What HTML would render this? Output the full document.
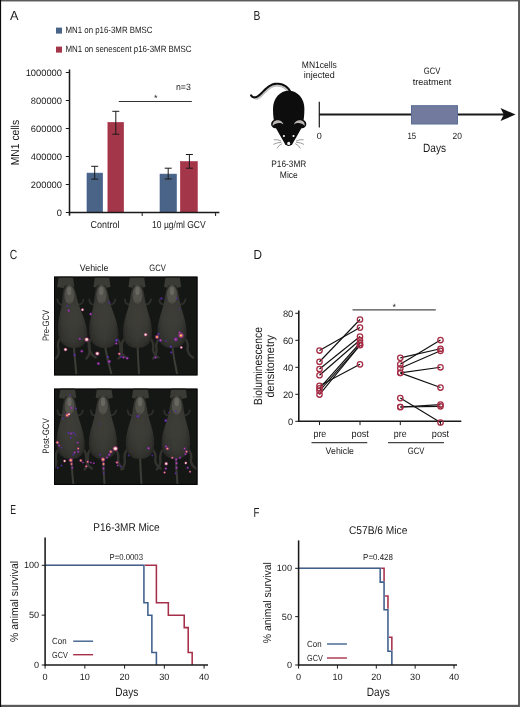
<!DOCTYPE html>
<html lang="en">
<head>
<meta charset="utf-8">
<title>Figure</title>
<style>
html,body{margin:0;padding:0;background:#fff;}
body{width:520px;height:707px;overflow:hidden;font-family:"Liberation Sans",sans-serif;}
svg{display:block;will-change:transform;}
</style>
</head>
<body>
<svg width="520" height="707" viewBox="0 0 520 707" font-family="'Liberation Sans', sans-serif" text-rendering="geometricPrecision">
<rect x="0" y="0" width="520" height="707" fill="#ffffff"/>
<text x="94.1" y="270.8" font-size="9.33" text-anchor="middle" fill="#1a1a1a" textLength="28.6" lengthAdjust="spacingAndGlyphs">Vehicle</text>
<text x="157.5" y="270.8" font-size="9.33" text-anchor="middle" fill="#1a1a1a" textLength="16.5" lengthAdjust="spacingAndGlyphs">GCV</text>
<text x="48.8" y="325.5" font-size="9.33" text-anchor="middle" fill="#1a1a1a" textLength="31" lengthAdjust="spacingAndGlyphs" transform="rotate(-90 48.8 325.5)">Pre-GCV</text>
<text x="48.8" y="436" font-size="9.33" text-anchor="middle" fill="#1a1a1a" textLength="35.5" lengthAdjust="spacingAndGlyphs" transform="rotate(-90 48.8 436)">Post-GCV</text>
<defs><radialGradient id="bg" cx="0.5" cy="0.55" r="0.62" fx="0.5" fy="0.45"><stop offset="0" stop-color="#403f3a"/><stop offset="0.55" stop-color="#393934"/><stop offset="1" stop-color="#222220"/></radialGradient><filter id="mb" x="-10%" y="-10%" width="120%" height="120%"><feGaussianBlur stdDeviation="0.75"/></filter><filter id="cb" x="-10%" y="-10%" width="120%" height="120%"><feGaussianBlur stdDeviation="0.3"/></filter><filter id="sb" x="-30%" y="-30%" width="160%" height="160%"><feGaussianBlur stdDeviation="0.7"/></filter><clipPath id="c1"><rect x="54.0" y="276.6" width="143.5" height="98.8"/></clipPath><clipPath id="c2"><rect x="54.0" y="388.6" width="143.5" height="96.3"/></clipPath></defs>
<rect x="54.0" y="276.6" width="143.5" height="98.8" fill="#151715"/>
<g clip-path="url(#c1)"><g filter="url(#cb)">
<path d="M58.8 276.5 L72.8 276.5 L74.4 286.9 L68.8 288.1 L62.8 288.1 L57.2 286.9 Z" fill="#3a3a34"/>
<path d="M95.0 276.5 L109.0 276.5 L110.6 286.9 L105.0 288.1 L99.0 288.1 L93.4 286.9 Z" fill="#3a3a34"/>
<path d="M130.0 276.5 L144.0 276.5 L145.6 286.9 L140.0 288.1 L134.0 288.1 L128.4 286.9 Z" fill="#3a3a34"/>
<path d="M165.6 276.5 L179.6 276.5 L181.2 286.9 L175.6 288.1 L169.6 288.1 L164.0 286.9 Z" fill="#3a3a34"/>
</g><g filter="url(#mb)">
<path d="M61.1 337.5 Q56.5 342.5 58.6 349.5 Q59.5 354.5 55.9 358.5" fill="none" stroke="#33332e" stroke-width="2.4" stroke-linecap="round"/>
<path d="M85.1 337.5 Q90.5 342.5 89.6 349.5 Q90.5 354.5 95.8 357.5" fill="none" stroke="#33332e" stroke-width="2.4" stroke-linecap="round"/>
<path d="M62.3 304.5 Q57.8 304.5 57.4 299.5" fill="none" stroke="#2e2e2a" stroke-width="1.8" stroke-linecap="round"/>
<path d="M78.3 304.5 Q82.8 304.5 83.4 299.5" fill="none" stroke="#2e2e2a" stroke-width="1.8" stroke-linecap="round"/>
<path d="M73.6 343.5 Q74.8 357.5 76.2 373.5" fill="none" stroke="#3d3d37" stroke-width="2.0" stroke-linecap="round"/>
<path d="M64.7 285.5 C62.4 289.5 62.8 296.5 62.1 302.5 C61.3 310.5 57.1 320.5 58.2 333.5 C59.0 343.5 66.0 348.0 74.0 348.0 C82.0 348.0 88.2 343.5 87.4 333.5 C86.3 320.5 80.3 310.5 78.1 302.5 C76.4 296.5 75.6 289.5 72.7 285.5 Z" fill="url(#bg)"/>
<ellipse cx="69.4" cy="294.5" rx="5.0" ry="9.5" fill="#5c5c55" opacity="0.7"/>
<ellipse cx="70.7" cy="310.5" rx="7.5" ry="9.0" fill="#3c3c36" opacity="0.3"/>
<ellipse cx="69.1" cy="291.0" rx="2.3" ry="4.2" fill="#7a7a72" opacity="0.55"/>
<path d="M70.5 307.5 L73.6 343.5" stroke="#3c3c36" stroke-width="1.1" opacity="0.55"/>
<ellipse cx="64.3" cy="334.5" rx="4.6" ry="8.0" fill="#393933" opacity="0.3"/>
<ellipse cx="81.3" cy="334.5" rx="4.6" ry="8.0" fill="#393933" opacity="0.3"/>
<path d="M92.1 337.5 Q87.4 342.5 89.3 349.5 Q90.1 354.5 86.4 358.5" fill="none" stroke="#33332e" stroke-width="2.4" stroke-linecap="round"/>
<path d="M116.1 337.5 Q121.4 342.5 120.3 349.5 Q121.1 354.5 126.3 357.5" fill="none" stroke="#33332e" stroke-width="2.4" stroke-linecap="round"/>
<path d="M94.1 304.5 Q89.6 304.5 89.3 299.5" fill="none" stroke="#2e2e2a" stroke-width="1.8" stroke-linecap="round"/>
<path d="M110.1 304.5 Q114.6 304.5 115.3 299.5" fill="none" stroke="#2e2e2a" stroke-width="1.8" stroke-linecap="round"/>
<path d="M104.5 343.5 Q106.8 357.5 111.3 373.5" fill="none" stroke="#3d3d37" stroke-width="2.0" stroke-linecap="round"/>
<path d="M97.0 285.5 C94.6 289.5 94.8 296.5 94.0 302.5 C93.0 310.5 88.5 320.5 89.3 333.5 C89.9 343.5 96.7 348.0 104.7 348.0 C112.7 348.0 119.1 343.5 118.5 333.5 C117.7 320.5 112.0 310.5 110.0 302.5 C108.4 296.5 107.8 289.5 105.0 285.5 Z" fill="url(#bg)"/>
<ellipse cx="101.5" cy="294.5" rx="5.0" ry="9.5" fill="#5c5c55" opacity="0.7"/>
<ellipse cx="102.4" cy="310.5" rx="7.5" ry="9.0" fill="#3c3c36" opacity="0.3"/>
<ellipse cx="101.3" cy="291.0" rx="2.3" ry="4.2" fill="#7a7a72" opacity="0.55"/>
<path d="M102.3 307.5 L104.5 343.5" stroke="#3c3c36" stroke-width="1.1" opacity="0.55"/>
<ellipse cx="95.4" cy="334.5" rx="4.6" ry="8.0" fill="#393933" opacity="0.3"/>
<ellipse cx="112.4" cy="334.5" rx="4.6" ry="8.0" fill="#393933" opacity="0.3"/>
<path d="M125.5 337.5 Q120.5 342.5 122.0 349.5 Q122.5 354.5 118.5 358.5" fill="none" stroke="#33332e" stroke-width="2.4" stroke-linecap="round"/>
<path d="M149.5 337.5 Q154.5 342.5 153.0 349.5 Q153.5 354.5 158.5 357.5" fill="none" stroke="#33332e" stroke-width="2.4" stroke-linecap="round"/>
<path d="M129.5 304.5 Q125.0 304.5 125.0 299.5" fill="none" stroke="#2e2e2a" stroke-width="1.8" stroke-linecap="round"/>
<path d="M145.5 304.5 Q150.0 304.5 151.0 299.5" fill="none" stroke="#2e2e2a" stroke-width="1.8" stroke-linecap="round"/>
<path d="M137.5 343.5 Q137.9 357.5 139.0 373.5" fill="none" stroke="#3d3d37" stroke-width="2.0" stroke-linecap="round"/>
<path d="M133.5 285.5 C130.9 289.5 130.7 296.5 129.5 302.5 C128.0 310.5 122.9 320.5 122.9 333.5 C122.9 343.5 129.5 348.0 137.5 348.0 C145.5 348.0 152.1 343.5 152.1 333.5 C152.1 320.5 147.0 310.5 145.5 302.5 C144.3 296.5 144.1 289.5 141.5 285.5 Z" fill="url(#bg)"/>
<ellipse cx="137.5" cy="294.5" rx="5.0" ry="9.5" fill="#5c5c55" opacity="0.7"/>
<ellipse cx="137.5" cy="310.5" rx="7.5" ry="9.0" fill="#3c3c36" opacity="0.3"/>
<ellipse cx="137.5" cy="291.0" rx="2.3" ry="4.2" fill="#7a7a72" opacity="0.55"/>
<path d="M137.5 307.5 L137.5 343.5" stroke="#3c3c36" stroke-width="1.1" opacity="0.55"/>
<ellipse cx="129.0" cy="334.5" rx="4.6" ry="8.0" fill="#393933" opacity="0.3"/>
<ellipse cx="146.0" cy="334.5" rx="4.6" ry="8.0" fill="#393933" opacity="0.3"/>
<path d="M160.0 337.5 Q155.0 342.5 156.5 349.5 Q157.0 354.5 153.0 358.5" fill="none" stroke="#33332e" stroke-width="2.4" stroke-linecap="round"/>
<path d="M184.0 337.5 Q189.0 342.5 187.5 349.5 Q188.0 354.5 193.0 357.5" fill="none" stroke="#33332e" stroke-width="2.4" stroke-linecap="round"/>
<path d="M164.0 304.5 Q159.5 304.5 159.5 299.5" fill="none" stroke="#2e2e2a" stroke-width="1.8" stroke-linecap="round"/>
<path d="M180.0 304.5 Q184.5 304.5 185.5 299.5" fill="none" stroke="#2e2e2a" stroke-width="1.8" stroke-linecap="round"/>
<path d="M172.0 343.5 Q173.5 357.5 177.0 373.5" fill="none" stroke="#3d3d37" stroke-width="2.0" stroke-linecap="round"/>
<path d="M168.0 285.5 C165.4 289.5 165.2 296.5 164.0 302.5 C162.5 310.5 157.4 320.5 157.4 333.5 C157.4 343.5 164.0 348.0 172.0 348.0 C180.0 348.0 186.6 343.5 186.6 333.5 C186.6 320.5 181.5 310.5 180.0 302.5 C178.8 296.5 178.6 289.5 176.0 285.5 Z" fill="url(#bg)"/>
<ellipse cx="172.0" cy="294.5" rx="5.0" ry="9.5" fill="#5c5c55" opacity="0.7"/>
<ellipse cx="172.0" cy="310.5" rx="7.5" ry="9.0" fill="#3c3c36" opacity="0.3"/>
<ellipse cx="172.0" cy="291.0" rx="2.3" ry="4.2" fill="#7a7a72" opacity="0.55"/>
<path d="M172.0 307.5 L172.0 343.5" stroke="#3c3c36" stroke-width="1.1" opacity="0.55"/>
<ellipse cx="163.5" cy="334.5" rx="4.6" ry="8.0" fill="#393933" opacity="0.3"/>
<ellipse cx="180.5" cy="334.5" rx="4.6" ry="8.0" fill="#393933" opacity="0.3"/>
</g><g filter="url(#sb)">
<circle cx="68.8" cy="310.7" r="1.35" fill="#6e2aa4" opacity="0.75"/><circle cx="68.8" cy="310.7" r="0.63" fill="#d64a9a"/>
<circle cx="82.5" cy="309.7" r="1.60" fill="#a8388a" opacity="0.75"/><circle cx="82.5" cy="309.7" r="1.01" fill="#ffc9b4"/><circle cx="82.5" cy="309.7" r="0.53" fill="#fff6ee"/>
<circle cx="65.5" cy="349.5" r="1.84" fill="#a8388a" opacity="0.75"/><circle cx="65.5" cy="349.5" r="1.17" fill="#ffc9b4"/><circle cx="65.5" cy="349.5" r="0.61" fill="#fff6ee"/>
<circle cx="86.7" cy="339.6" r="2.34" fill="#a8388a" opacity="0.75"/><circle cx="86.7" cy="339.6" r="1.48" fill="#ffc9b4"/><circle cx="86.7" cy="339.6" r="0.78" fill="#fff6ee"/>
<circle cx="79.8" cy="338.8" r="1.35" fill="#6e2aa4" opacity="0.75"/><circle cx="79.8" cy="338.8" r="0.63" fill="#d64a9a"/>
<circle cx="81.8" cy="351.3" r="1.49" fill="#6e2aa4" opacity="0.75"/><circle cx="81.8" cy="351.3" r="0.69" fill="#d64a9a"/>
<circle cx="74.5" cy="355" r="1.26" fill="#4f28a8" opacity="0.75"/><circle cx="74.5" cy="355" r="0.45" fill="#8c40d0"/>
<circle cx="67.5" cy="306" r="0.88" fill="#4f28a8" opacity="0.75"/><circle cx="67.5" cy="306" r="0.32" fill="#8c40d0"/>
<circle cx="90.7" cy="314.0" r="1.62" fill="#6e2aa4" opacity="0.75"/><circle cx="90.7" cy="314.0" r="0.76" fill="#d64a9a"/>
<circle cx="109.4" cy="302.6" r="1.13" fill="#4f28a8" opacity="0.75"/><circle cx="109.4" cy="302.6" r="0.41" fill="#8c40d0"/>
<circle cx="97.3" cy="353.6" r="2.21" fill="#a8388a" opacity="0.75"/><circle cx="97.3" cy="353.6" r="1.40" fill="#ffc9b4"/><circle cx="97.3" cy="353.6" r="0.74" fill="#fff6ee"/>
<circle cx="98.4" cy="363.6" r="1.62" fill="#6e2aa4" opacity="0.75"/><circle cx="98.4" cy="363.6" r="0.76" fill="#d64a9a"/>
<circle cx="116.6" cy="340.2" r="1.64" fill="#4f28a8" opacity="0.75"/><circle cx="116.6" cy="340.2" r="0.59" fill="#8c40d0"/>
<circle cx="116.3" cy="343.5" r="1.35" fill="#6e2aa4" opacity="0.75"/><circle cx="116.3" cy="343.5" r="0.63" fill="#d64a9a"/>
<circle cx="119.3" cy="353.8" r="1.57" fill="#9a2f90" opacity="0.8"/><circle cx="119.3" cy="353.8" r="0.89" fill="#f0824e"/><circle cx="119.3" cy="353.8" r="0.39" fill="#ffe09a"/>
<circle cx="109.3" cy="361.5" r="1.76" fill="#6e2aa4" opacity="0.75"/><circle cx="109.3" cy="361.5" r="0.82" fill="#d64a9a"/>
<circle cx="108" cy="357" r="1.13" fill="#4f28a8" opacity="0.75"/><circle cx="108" cy="357" r="0.41" fill="#8c40d0"/>
<circle cx="123.4" cy="357.3" r="1.35" fill="#6e2aa4" opacity="0.75"/><circle cx="123.4" cy="357.3" r="0.63" fill="#d64a9a"/>
<circle cx="127.2" cy="358.3" r="1.49" fill="#6e2aa4" opacity="0.75"/><circle cx="127.2" cy="358.3" r="0.69" fill="#d64a9a"/>
<circle cx="121" cy="357" r="1.01" fill="#4f28a8" opacity="0.75"/><circle cx="121" cy="357" r="0.36" fill="#8c40d0"/>
<circle cx="145.6" cy="334.6" r="1.84" fill="#a8388a" opacity="0.75"/><circle cx="145.6" cy="334.6" r="1.17" fill="#ffc9b4"/><circle cx="145.6" cy="334.6" r="0.61" fill="#fff6ee"/>
<circle cx="155.5" cy="357.6" r="1.35" fill="#6e2aa4" opacity="0.75"/><circle cx="155.5" cy="357.6" r="0.63" fill="#d64a9a"/>
<circle cx="161.4" cy="298.4" r="1.26" fill="#4f28a8" opacity="0.75"/><circle cx="161.4" cy="298.4" r="0.45" fill="#8c40d0"/>
<circle cx="176.8" cy="298.6" r="1.01" fill="#4f28a8" opacity="0.75"/><circle cx="176.8" cy="298.6" r="0.36" fill="#8c40d0"/>
<circle cx="179.5" cy="309" r="0.76" fill="#4f28a8" opacity="0.75"/><circle cx="179.5" cy="309" r="0.27" fill="#8c40d0"/>
<circle cx="157.0" cy="337.0" r="2.10" fill="#9a2f90" opacity="0.8"/><circle cx="157.0" cy="337.0" r="1.18" fill="#f0824e"/><circle cx="157.0" cy="337.0" r="0.52" fill="#ffe09a"/>
<circle cx="160.5" cy="340.3" r="1.62" fill="#6e2aa4" opacity="0.75"/><circle cx="160.5" cy="340.3" r="0.76" fill="#d64a9a"/>
<circle cx="158.5" cy="334" r="1.13" fill="#4f28a8" opacity="0.75"/><circle cx="158.5" cy="334" r="0.41" fill="#8c40d0"/>
<circle cx="181.0" cy="335.4" r="2.62" fill="#9a2f90" opacity="0.8"/><circle cx="181.0" cy="335.4" r="1.48" fill="#f0824e"/><circle cx="181.0" cy="335.4" r="0.66" fill="#ffe09a"/>
<circle cx="175.8" cy="339.4" r="2.03" fill="#6e2aa4" opacity="0.75"/><circle cx="175.8" cy="339.4" r="0.94" fill="#d64a9a"/>
<circle cx="179.5" cy="332.5" r="1.35" fill="#6e2aa4" opacity="0.75"/><circle cx="179.5" cy="332.5" r="0.63" fill="#d64a9a"/>
<circle cx="181.3" cy="347.4" r="1.48" fill="#a8388a" opacity="0.75"/><circle cx="181.3" cy="347.4" r="0.93" fill="#ffc9b4"/><circle cx="181.3" cy="347.4" r="0.49" fill="#fff6ee"/>
<circle cx="170.8" cy="346.8" r="1.39" fill="#4f28a8" opacity="0.75"/><circle cx="170.8" cy="346.8" r="0.50" fill="#8c40d0"/>
<circle cx="171.2" cy="352.5" r="1.13" fill="#4f28a8" opacity="0.75"/><circle cx="171.2" cy="352.5" r="0.41" fill="#8c40d0"/>
<circle cx="166" cy="341" r="0.88" fill="#4f28a8" opacity="0.75"/><circle cx="166" cy="341" r="0.32" fill="#8c40d0"/>
</g></g>
<rect x="54.5" y="277.1" width="142.5" height="97.8" fill="none" stroke="#050505" stroke-width="1"/>
<rect x="54.0" y="388.6" width="143.5" height="96.3" fill="#151715"/>
<g clip-path="url(#c2)"><g filter="url(#cb)">
<path d="M60.7 387.4 L74.7 387.4 L76.3 397.8 L70.7 399.0 L64.7 399.0 L59.1 397.8 Z" fill="#3a3a34"/>
<path d="M97.2 387.4 L111.2 387.4 L112.8 397.8 L107.2 399.0 L101.2 399.0 L95.6 397.8 Z" fill="#3a3a34"/>
<path d="M133.5 387.4 L147.5 387.4 L149.1 397.8 L143.5 399.0 L137.5 399.0 L131.9 397.8 Z" fill="#3a3a34"/>
<path d="M171.5 387.4 L185.5 387.4 L187.1 397.8 L181.5 399.0 L175.5 399.0 L169.9 397.8 Z" fill="#3a3a34"/>
</g><g filter="url(#mb)">
<path d="M59.2 448.4 Q54.5 453.4 56.1 460.4 Q56.8 465.4 53.0 469.4" fill="none" stroke="#33332e" stroke-width="2.4" stroke-linecap="round"/>
<path d="M82.4 448.4 Q87.4 453.4 86.2 460.4 Q86.8 465.4 91.8 468.4" fill="none" stroke="#33332e" stroke-width="2.4" stroke-linecap="round"/>
<path d="M62.1 415.4 Q57.7 415.4 57.5 410.4" fill="none" stroke="#2e2e2a" stroke-width="1.8" stroke-linecap="round"/>
<path d="M77.6 415.4 Q81.9 415.4 82.8 410.4" fill="none" stroke="#2e2e2a" stroke-width="1.8" stroke-linecap="round"/>
<path d="M71.0 454.4 Q71.8 468.4 73.3 484.4" fill="none" stroke="#3d3d37" stroke-width="2.0" stroke-linecap="round"/>
<path d="M65.4 396.4 C63.0 400.4 63.0 407.4 62.0 413.4 C60.8 421.4 56.1 431.4 56.5 444.4 C56.8 454.4 63.4 458.9 71.1 458.9 C78.9 458.9 85.1 454.4 84.8 444.4 C84.5 431.4 79.2 421.4 77.5 413.4 C76.2 407.4 75.8 400.4 73.1 396.4 Z" fill="url(#bg)"/>
<ellipse cx="69.5" cy="405.4" rx="4.8" ry="9.5" fill="#5c5c55" opacity="0.7"/>
<ellipse cx="70.0" cy="421.4" rx="7.3" ry="9.0" fill="#3c3c36" opacity="0.3"/>
<ellipse cx="69.4" cy="401.9" rx="2.2" ry="4.2" fill="#7a7a72" opacity="0.55"/>
<path d="M69.9 418.4 L71.0 454.4" stroke="#3c3c36" stroke-width="1.1" opacity="0.55"/>
<ellipse cx="62.5" cy="445.4" rx="4.5" ry="8.0" fill="#393933" opacity="0.3"/>
<ellipse cx="79.0" cy="445.4" rx="4.5" ry="8.0" fill="#393933" opacity="0.3"/>
<path d="M91.4 448.4 Q86.5 453.4 88.0 460.4 Q88.5 465.4 84.6 469.4" fill="none" stroke="#33332e" stroke-width="2.4" stroke-linecap="round"/>
<path d="M114.6 448.4 Q119.5 453.4 118.0 460.4 Q118.5 465.4 123.4 468.4" fill="none" stroke="#33332e" stroke-width="2.4" stroke-linecap="round"/>
<path d="M95.2 415.4 Q90.9 415.4 90.9 410.4" fill="none" stroke="#2e2e2a" stroke-width="1.8" stroke-linecap="round"/>
<path d="M110.8 415.4 Q115.1 415.4 116.1 410.4" fill="none" stroke="#2e2e2a" stroke-width="1.8" stroke-linecap="round"/>
<path d="M103.0 454.4 Q103.4 468.4 104.5 484.4" fill="none" stroke="#3d3d37" stroke-width="2.0" stroke-linecap="round"/>
<path d="M99.1 396.4 C96.6 400.4 96.4 407.4 95.2 413.4 C93.8 421.4 88.8 431.4 88.8 444.4 C88.8 454.4 95.2 458.9 103.0 458.9 C110.8 458.9 117.2 454.4 117.2 444.4 C117.2 431.4 112.2 421.4 110.8 413.4 C109.6 407.4 109.4 400.4 106.9 396.4 Z" fill="url(#bg)"/>
<ellipse cx="103.0" cy="405.4" rx="4.8" ry="9.5" fill="#5c5c55" opacity="0.7"/>
<ellipse cx="103.0" cy="421.4" rx="7.3" ry="9.0" fill="#3c3c36" opacity="0.3"/>
<ellipse cx="103.0" cy="401.9" rx="2.2" ry="4.2" fill="#7a7a72" opacity="0.55"/>
<path d="M103.0 418.4 L103.0 454.4" stroke="#3c3c36" stroke-width="1.1" opacity="0.55"/>
<ellipse cx="94.8" cy="445.4" rx="4.5" ry="8.0" fill="#393933" opacity="0.3"/>
<ellipse cx="111.2" cy="445.4" rx="4.5" ry="8.0" fill="#393933" opacity="0.3"/>
<path d="M128.2 448.4 Q123.3 453.4 124.8 460.4 Q125.3 465.4 121.4 469.4" fill="none" stroke="#33332e" stroke-width="2.4" stroke-linecap="round"/>
<path d="M151.8 448.4 Q156.7 453.4 155.2 460.4 Q155.7 465.4 160.6 468.4" fill="none" stroke="#33332e" stroke-width="2.4" stroke-linecap="round"/>
<path d="M132.2 415.4 Q127.8 415.4 127.8 410.4" fill="none" stroke="#2e2e2a" stroke-width="1.8" stroke-linecap="round"/>
<path d="M147.8 415.4 Q152.2 415.4 153.2 410.4" fill="none" stroke="#2e2e2a" stroke-width="1.8" stroke-linecap="round"/>
<path d="M140.0 454.4 Q140.4 468.4 141.5 484.4" fill="none" stroke="#3d3d37" stroke-width="2.0" stroke-linecap="round"/>
<path d="M136.1 396.4 C133.5 400.4 133.3 407.4 132.2 413.4 C130.7 421.4 125.7 431.4 125.7 444.4 C125.7 454.4 132.2 458.9 140.0 458.9 C147.8 458.9 154.3 454.4 154.3 444.4 C154.3 431.4 149.3 421.4 147.8 413.4 C146.7 407.4 146.5 400.4 143.9 396.4 Z" fill="url(#bg)"/>
<ellipse cx="140.0" cy="405.4" rx="4.9" ry="9.5" fill="#5c5c55" opacity="0.7"/>
<ellipse cx="140.0" cy="421.4" rx="7.3" ry="9.0" fill="#3c3c36" opacity="0.3"/>
<ellipse cx="140.0" cy="401.9" rx="2.3" ry="4.2" fill="#7a7a72" opacity="0.55"/>
<path d="M140.0 418.4 L140.0 454.4" stroke="#3c3c36" stroke-width="1.1" opacity="0.55"/>
<ellipse cx="131.7" cy="445.4" rx="4.5" ry="8.0" fill="#393933" opacity="0.3"/>
<ellipse cx="148.3" cy="445.4" rx="4.5" ry="8.0" fill="#393933" opacity="0.3"/>
<path d="M164.0 448.4 Q159.0 453.4 160.4 460.4 Q160.8 465.4 156.8 469.4" fill="none" stroke="#33332e" stroke-width="2.4" stroke-linecap="round"/>
<path d="M187.6 448.4 Q192.4 453.4 190.8 460.4 Q191.1 465.4 196.0 468.4" fill="none" stroke="#33332e" stroke-width="2.4" stroke-linecap="round"/>
<path d="M168.6 415.4 Q164.2 415.4 164.3 410.4" fill="none" stroke="#2e2e2a" stroke-width="1.8" stroke-linecap="round"/>
<path d="M184.3 415.4 Q188.7 415.4 189.8 410.4" fill="none" stroke="#2e2e2a" stroke-width="1.8" stroke-linecap="round"/>
<path d="M175.7 454.4 Q176.1 468.4 177.5 484.4" fill="none" stroke="#3d3d37" stroke-width="2.0" stroke-linecap="round"/>
<path d="M172.9 396.4 C170.3 400.4 170.0 407.4 168.7 413.4 C167.0 421.4 161.8 431.4 161.6 444.4 C161.4 454.4 167.8 458.9 175.6 458.9 C183.4 458.9 190.0 454.4 190.2 444.4 C190.4 431.4 185.7 421.4 184.3 413.4 C183.3 407.4 183.2 400.4 180.8 396.4 Z" fill="url(#bg)"/>
<ellipse cx="176.7" cy="405.4" rx="4.9" ry="9.5" fill="#5c5c55" opacity="0.7"/>
<ellipse cx="176.4" cy="421.4" rx="7.3" ry="9.0" fill="#3c3c36" opacity="0.3"/>
<ellipse cx="176.7" cy="401.9" rx="2.3" ry="4.2" fill="#7a7a72" opacity="0.55"/>
<path d="M176.4 418.4 L175.7 454.4" stroke="#3c3c36" stroke-width="1.1" opacity="0.55"/>
<ellipse cx="167.5" cy="445.4" rx="4.5" ry="8.0" fill="#393933" opacity="0.3"/>
<ellipse cx="184.2" cy="445.4" rx="4.5" ry="8.0" fill="#393933" opacity="0.3"/>
</g><g filter="url(#sb)">
<circle cx="70.0" cy="395.0" r="0.88" fill="#4f28a8" opacity="0.75"/><circle cx="70.0" cy="395.0" r="0.32" fill="#8c40d0"/>
<circle cx="71.5" cy="407.8" r="1.35" fill="#6e2aa4" opacity="0.75"/><circle cx="71.5" cy="407.8" r="0.63" fill="#d64a9a"/>
<circle cx="76.0" cy="408.6" r="1.01" fill="#4f28a8" opacity="0.75"/><circle cx="76.0" cy="408.6" r="0.36" fill="#8c40d0"/>
<circle cx="67.2" cy="415.2" r="2.10" fill="#9a2f90" opacity="0.8"/><circle cx="67.2" cy="415.2" r="1.18" fill="#f0824e"/><circle cx="67.2" cy="415.2" r="0.52" fill="#ffe09a"/>
<circle cx="69.0" cy="414.2" r="1.35" fill="#a8388a" opacity="0.75"/><circle cx="69.0" cy="414.2" r="0.86" fill="#ffc9b4"/><circle cx="69.0" cy="414.2" r="0.45" fill="#fff6ee"/>
<circle cx="63.0" cy="418.6" r="0.88" fill="#4f28a8" opacity="0.75"/><circle cx="63.0" cy="418.6" r="0.32" fill="#8c40d0"/>
<circle cx="68.5" cy="433.0" r="1.13" fill="#4f28a8" opacity="0.75"/><circle cx="68.5" cy="433.0" r="0.41" fill="#8c40d0"/>
<circle cx="71.0" cy="433.5" r="1.22" fill="#6e2aa4" opacity="0.75"/><circle cx="71.0" cy="433.5" r="0.57" fill="#d64a9a"/>
<circle cx="73.5" cy="432.8" r="1.13" fill="#4f28a8" opacity="0.75"/><circle cx="73.5" cy="432.8" r="0.41" fill="#8c40d0"/>
<circle cx="75.4" cy="434.8" r="0.88" fill="#4f28a8" opacity="0.75"/><circle cx="75.4" cy="434.8" r="0.32" fill="#8c40d0"/>
<circle cx="70.8" cy="437.8" r="1.13" fill="#4f28a8" opacity="0.75"/><circle cx="70.8" cy="437.8" r="0.41" fill="#8c40d0"/>
<circle cx="57.4" cy="442.5" r="1.71" fill="#9a2f90" opacity="0.8"/><circle cx="57.4" cy="442.5" r="0.96" fill="#f0824e"/><circle cx="57.4" cy="442.5" r="0.43" fill="#ffe09a"/>
<circle cx="59.2" cy="445.5" r="1.22" fill="#6e2aa4" opacity="0.75"/><circle cx="59.2" cy="445.5" r="0.57" fill="#d64a9a"/>
<circle cx="61.5" cy="447.8" r="0.88" fill="#4f28a8" opacity="0.75"/><circle cx="61.5" cy="447.8" r="0.32" fill="#8c40d0"/>
<circle cx="77.7" cy="442.5" r="1.22" fill="#6e2aa4" opacity="0.75"/><circle cx="77.7" cy="442.5" r="0.57" fill="#d64a9a"/>
<circle cx="78.2" cy="448.6" r="1.31" fill="#9a2f90" opacity="0.8"/><circle cx="78.2" cy="448.6" r="0.74" fill="#f0824e"/><circle cx="78.2" cy="448.6" r="0.33" fill="#ffe09a"/>
<circle cx="78.2" cy="451.7" r="1.22" fill="#6e2aa4" opacity="0.75"/><circle cx="78.2" cy="451.7" r="0.57" fill="#d64a9a"/>
<circle cx="74.6" cy="452.5" r="1.22" fill="#6e2aa4" opacity="0.75"/><circle cx="74.6" cy="452.5" r="0.57" fill="#d64a9a"/>
<circle cx="73.0" cy="454.8" r="1.01" fill="#4f28a8" opacity="0.75"/><circle cx="73.0" cy="454.8" r="0.36" fill="#8c40d0"/>
<circle cx="64.6" cy="461.0" r="1.48" fill="#a8388a" opacity="0.75"/><circle cx="64.6" cy="461.0" r="0.93" fill="#ffc9b4"/><circle cx="64.6" cy="461.0" r="0.49" fill="#fff6ee"/>
<circle cx="70.8" cy="460.2" r="2.10" fill="#9a2f90" opacity="0.8"/><circle cx="70.8" cy="460.2" r="1.18" fill="#f0824e"/><circle cx="70.8" cy="460.2" r="0.52" fill="#ffe09a"/>
<circle cx="71.5" cy="464.0" r="1.44" fill="#9a2f90" opacity="0.8"/><circle cx="71.5" cy="464.0" r="0.81" fill="#f0824e"/><circle cx="71.5" cy="464.0" r="0.36" fill="#ffe09a"/>
<circle cx="72.3" cy="467.8" r="1.22" fill="#6e2aa4" opacity="0.75"/><circle cx="72.3" cy="467.8" r="0.57" fill="#d64a9a"/>
<circle cx="80.8" cy="460.5" r="1.57" fill="#9a2f90" opacity="0.8"/><circle cx="80.8" cy="460.5" r="0.89" fill="#f0824e"/><circle cx="80.8" cy="460.5" r="0.39" fill="#ffe09a"/>
<circle cx="83.0" cy="462.5" r="1.08" fill="#6e2aa4" opacity="0.75"/><circle cx="83.0" cy="462.5" r="0.50" fill="#d64a9a"/>
<circle cx="87.7" cy="461.7" r="1.31" fill="#9a2f90" opacity="0.8"/><circle cx="87.7" cy="461.7" r="0.74" fill="#f0824e"/><circle cx="87.7" cy="461.7" r="0.33" fill="#ffe09a"/>
<circle cx="90.8" cy="462.5" r="1.08" fill="#6e2aa4" opacity="0.75"/><circle cx="90.8" cy="462.5" r="0.50" fill="#d64a9a"/>
<circle cx="93.8" cy="463.2" r="1.08" fill="#6e2aa4" opacity="0.75"/><circle cx="93.8" cy="463.2" r="0.50" fill="#d64a9a"/>
<circle cx="86.2" cy="466.3" r="1.31" fill="#9a2f90" opacity="0.8"/><circle cx="86.2" cy="466.3" r="0.74" fill="#f0824e"/><circle cx="86.2" cy="466.3" r="0.33" fill="#ffe09a"/>
<circle cx="57.7" cy="467.8" r="1.01" fill="#4f28a8" opacity="0.75"/><circle cx="57.7" cy="467.8" r="0.36" fill="#8c40d0"/>
<circle cx="61.5" cy="465.5" r="1.01" fill="#4f28a8" opacity="0.75"/><circle cx="61.5" cy="465.5" r="0.36" fill="#8c40d0"/>
<circle cx="99.2" cy="424.0" r="0.76" fill="#4f28a8" opacity="0.75"/><circle cx="99.2" cy="424.0" r="0.27" fill="#8c40d0"/>
<circle cx="115.4" cy="448.6" r="2.71" fill="#a8388a" opacity="0.75"/><circle cx="115.4" cy="448.6" r="1.71" fill="#ffc9b4"/><circle cx="115.4" cy="448.6" r="0.90" fill="#fff6ee"/>
<circle cx="110.8" cy="451.7" r="1.71" fill="#9a2f90" opacity="0.8"/><circle cx="110.8" cy="451.7" r="0.96" fill="#f0824e"/><circle cx="110.8" cy="451.7" r="0.43" fill="#ffe09a"/>
<circle cx="109.2" cy="454.8" r="1.49" fill="#6e2aa4" opacity="0.75"/><circle cx="109.2" cy="454.8" r="0.69" fill="#d64a9a"/>
<circle cx="100.0" cy="454.8" r="1.01" fill="#4f28a8" opacity="0.75"/><circle cx="100.0" cy="454.8" r="0.36" fill="#8c40d0"/>
<circle cx="103.0" cy="459.4" r="2.23" fill="#9a2f90" opacity="0.8"/><circle cx="103.0" cy="459.4" r="1.25" fill="#f0824e"/><circle cx="103.0" cy="459.4" r="0.56" fill="#ffe09a"/>
<circle cx="103.5" cy="464.0" r="1.57" fill="#9a2f90" opacity="0.8"/><circle cx="103.5" cy="464.0" r="0.89" fill="#f0824e"/><circle cx="103.5" cy="464.0" r="0.39" fill="#ffe09a"/>
<circle cx="103.5" cy="468.6" r="1.35" fill="#6e2aa4" opacity="0.75"/><circle cx="103.5" cy="468.6" r="0.63" fill="#d64a9a"/>
<circle cx="103.8" cy="473.2" r="1.01" fill="#4f28a8" opacity="0.75"/><circle cx="103.8" cy="473.2" r="0.36" fill="#8c40d0"/>
<circle cx="117.0" cy="462.5" r="1.44" fill="#9a2f90" opacity="0.8"/><circle cx="117.0" cy="462.5" r="0.81" fill="#f0824e"/><circle cx="117.0" cy="462.5" r="0.36" fill="#ffe09a"/>
<circle cx="117.7" cy="465.5" r="1.08" fill="#6e2aa4" opacity="0.75"/><circle cx="117.7" cy="465.5" r="0.50" fill="#d64a9a"/>
<circle cx="107.0" cy="457.5" r="1.22" fill="#6e2aa4" opacity="0.75"/><circle cx="107.0" cy="457.5" r="0.57" fill="#d64a9a"/>
<circle cx="137.7" cy="416.3" r="1.39" fill="#4f28a8" opacity="0.75"/><circle cx="137.7" cy="416.3" r="0.50" fill="#8c40d0"/>
<circle cx="138.3" cy="415.8" r="0.68" fill="#6e2aa4" opacity="0.75"/><circle cx="138.3" cy="415.8" r="0.32" fill="#d64a9a"/>
<circle cx="148.5" cy="448.3" r="1.49" fill="#6e2aa4" opacity="0.75"/><circle cx="148.5" cy="448.3" r="0.69" fill="#d64a9a"/>
<circle cx="128.5" cy="455.5" r="0.88" fill="#4f28a8" opacity="0.75"/><circle cx="128.5" cy="455.5" r="0.32" fill="#8c40d0"/>
<circle cx="152.3" cy="455.5" r="0.88" fill="#4f28a8" opacity="0.75"/><circle cx="152.3" cy="455.5" r="0.32" fill="#8c40d0"/>
<circle cx="120.8" cy="466.3" r="0.88" fill="#4f28a8" opacity="0.75"/><circle cx="120.8" cy="466.3" r="0.32" fill="#8c40d0"/>
<circle cx="175.7" cy="411.0" r="1.01" fill="#4f28a8" opacity="0.75"/><circle cx="175.7" cy="411.0" r="0.36" fill="#8c40d0"/>
<circle cx="168.5" cy="412.5" r="0.63" fill="#4f28a8" opacity="0.75"/><circle cx="168.5" cy="412.5" r="0.23" fill="#8c40d0"/>
<circle cx="165.7" cy="420.6" r="1.51" fill="#4f28a8" opacity="0.75"/><circle cx="165.7" cy="420.6" r="0.54" fill="#8c40d0"/>
<circle cx="166.0" cy="420.3" r="0.81" fill="#6e2aa4" opacity="0.75"/><circle cx="166.0" cy="420.3" r="0.38" fill="#d64a9a"/>
<circle cx="167.4" cy="448.6" r="1.71" fill="#9a2f90" opacity="0.8"/><circle cx="167.4" cy="448.6" r="0.96" fill="#f0824e"/><circle cx="167.4" cy="448.6" r="0.43" fill="#ffe09a"/>
<circle cx="166.0" cy="446.3" r="1.22" fill="#6e2aa4" opacity="0.75"/><circle cx="166.0" cy="446.3" r="0.57" fill="#d64a9a"/>
<circle cx="184.6" cy="448.6" r="1.35" fill="#6e2aa4" opacity="0.75"/><circle cx="184.6" cy="448.6" r="0.63" fill="#d64a9a"/>
<circle cx="186.5" cy="451.7" r="1.44" fill="#9a2f90" opacity="0.8"/><circle cx="186.5" cy="451.7" r="0.81" fill="#f0824e"/><circle cx="186.5" cy="451.7" r="0.36" fill="#ffe09a"/>
<circle cx="185.4" cy="454.0" r="1.22" fill="#6e2aa4" opacity="0.75"/><circle cx="185.4" cy="454.0" r="0.57" fill="#d64a9a"/>
<circle cx="172.3" cy="457.8" r="1.31" fill="#9a2f90" opacity="0.8"/><circle cx="172.3" cy="457.8" r="0.74" fill="#f0824e"/><circle cx="172.3" cy="457.8" r="0.33" fill="#ffe09a"/>
<circle cx="176.2" cy="459.4" r="1.35" fill="#6e2aa4" opacity="0.75"/><circle cx="176.2" cy="459.4" r="0.63" fill="#d64a9a"/>
<circle cx="180.0" cy="457.8" r="1.22" fill="#6e2aa4" opacity="0.75"/><circle cx="180.0" cy="457.8" r="0.57" fill="#d64a9a"/>
<circle cx="176.5" cy="463.2" r="1.35" fill="#6e2aa4" opacity="0.75"/><circle cx="176.5" cy="463.2" r="0.63" fill="#d64a9a"/>
<circle cx="176.5" cy="467.8" r="1.35" fill="#6e2aa4" opacity="0.75"/><circle cx="176.5" cy="467.8" r="0.63" fill="#d64a9a"/>
<circle cx="175.7" cy="473.2" r="1.01" fill="#4f28a8" opacity="0.75"/><circle cx="175.7" cy="473.2" r="0.36" fill="#8c40d0"/>
<circle cx="166.2" cy="463.7" r="1.84" fill="#a8388a" opacity="0.75"/><circle cx="166.2" cy="463.7" r="1.17" fill="#ffc9b4"/><circle cx="166.2" cy="463.7" r="0.61" fill="#fff6ee"/>
<circle cx="165.8" cy="468.6" r="1.35" fill="#6e2aa4" opacity="0.75"/><circle cx="165.8" cy="468.6" r="0.63" fill="#d64a9a"/>
<circle cx="164.6" cy="472.5" r="1.31" fill="#9a2f90" opacity="0.8"/><circle cx="164.6" cy="472.5" r="0.74" fill="#f0824e"/><circle cx="164.6" cy="472.5" r="0.33" fill="#ffe09a"/>
<circle cx="185.8" cy="463.0" r="1.48" fill="#a8388a" opacity="0.75"/><circle cx="185.8" cy="463.0" r="0.93" fill="#ffc9b4"/><circle cx="185.8" cy="463.0" r="0.49" fill="#fff6ee"/>
<circle cx="187.7" cy="467.8" r="1.22" fill="#6e2aa4" opacity="0.75"/><circle cx="187.7" cy="467.8" r="0.57" fill="#d64a9a"/>
<circle cx="190.0" cy="471.7" r="1.18" fill="#9a2f90" opacity="0.8"/><circle cx="190.0" cy="471.7" r="0.66" fill="#f0824e"/><circle cx="190.0" cy="471.7" r="0.30" fill="#ffe09a"/>
</g></g>
<rect x="54.5" y="389.1" width="142.5" height="95.3" fill="none" stroke="#050505" stroke-width="1"/>
<rect x="56" y="27.6" width="6" height="6" fill="#4a6487"/>
<rect x="56" y="46.6" width="6" height="6" fill="#a43649"/>
<text x="65.5" y="33.3" font-size="9.12" text-anchor="start" fill="#1a1a1a" textLength="87" lengthAdjust="spacingAndGlyphs">MN1 on p16-3MR BMSC</text>
<text x="65.5" y="52.3" font-size="9.12" text-anchor="start" fill="#1a1a1a" textLength="126" lengthAdjust="spacingAndGlyphs">MN1 on senescent p16-3MR BMSC</text>
<rect x="87.0" y="173.10000000000002" width="15.600000000000003" height="39.09999999999999" fill="#4a6487" stroke="#3c5c8c" stroke-width="0.6"/>
<rect x="107.89999999999999" y="122.39999999999999" width="15.700000000000012" height="89.80000000000001" fill="#a43649" stroke="#a92d47" stroke-width="0.6"/>
<rect x="160.0" y="174.10000000000002" width="16.4" height="38.09999999999999" fill="#4a6487" stroke="#3c5c8c" stroke-width="0.6"/>
<rect x="180.4" y="161.60000000000002" width="16.9" height="50.59999999999999" fill="#a43649" stroke="#a92d47" stroke-width="0.6"/>
<line x1="94.7" y1="166.3" x2="94.7" y2="179.1" stroke="#1a1a1a" stroke-width="1.0" stroke-linecap="butt"/>
<line x1="91.2" y1="166.3" x2="98.2" y2="166.3" stroke="#1a1a1a" stroke-width="1.0" stroke-linecap="butt"/>
<line x1="91.2" y1="179.1" x2="98.2" y2="179.1" stroke="#1a1a1a" stroke-width="1.0" stroke-linecap="butt"/>
<line x1="115.8" y1="111.3" x2="115.8" y2="134.2" stroke="#1a1a1a" stroke-width="1.0" stroke-linecap="butt"/>
<line x1="112.3" y1="111.3" x2="119.3" y2="111.3" stroke="#1a1a1a" stroke-width="1.0" stroke-linecap="butt"/>
<line x1="112.3" y1="134.2" x2="119.3" y2="134.2" stroke="#1a1a1a" stroke-width="1.0" stroke-linecap="butt"/>
<line x1="168.2" y1="168.2" x2="168.2" y2="179.0" stroke="#1a1a1a" stroke-width="1.0" stroke-linecap="butt"/>
<line x1="164.7" y1="168.2" x2="171.7" y2="168.2" stroke="#1a1a1a" stroke-width="1.0" stroke-linecap="butt"/>
<line x1="164.7" y1="179.0" x2="171.7" y2="179.0" stroke="#1a1a1a" stroke-width="1.0" stroke-linecap="butt"/>
<line x1="189.4" y1="154.5" x2="189.4" y2="168.2" stroke="#1a1a1a" stroke-width="1.0" stroke-linecap="butt"/>
<line x1="185.9" y1="154.5" x2="192.9" y2="154.5" stroke="#1a1a1a" stroke-width="1.0" stroke-linecap="butt"/>
<line x1="185.9" y1="168.2" x2="192.9" y2="168.2" stroke="#1a1a1a" stroke-width="1.0" stroke-linecap="butt"/>
<line x1="69.5" y1="69.5" x2="69.5" y2="215.7" stroke="#1a1a1a" stroke-width="1.55" stroke-linecap="butt"/>
<line x1="65.8" y1="212.5" x2="69.5" y2="212.5" stroke="#1a1a1a" stroke-width="1.0" stroke-linecap="butt"/>
<text x="62" y="215.7" font-size="9.33" text-anchor="end" fill="#1a1a1a">0</text>
<line x1="65.8" y1="184.5" x2="69.5" y2="184.5" stroke="#1a1a1a" stroke-width="1.0" stroke-linecap="butt"/>
<text x="62" y="187.7" font-size="9.33" text-anchor="end" fill="#1a1a1a">200000</text>
<line x1="65.8" y1="156.5" x2="69.5" y2="156.5" stroke="#1a1a1a" stroke-width="1.0" stroke-linecap="butt"/>
<text x="62" y="159.7" font-size="9.33" text-anchor="end" fill="#1a1a1a">400000</text>
<line x1="65.8" y1="128.5" x2="69.5" y2="128.5" stroke="#1a1a1a" stroke-width="1.0" stroke-linecap="butt"/>
<text x="62" y="131.7" font-size="9.33" text-anchor="end" fill="#1a1a1a">600000</text>
<line x1="65.8" y1="100.5" x2="69.5" y2="100.5" stroke="#1a1a1a" stroke-width="1.0" stroke-linecap="butt"/>
<text x="62" y="103.7" font-size="9.33" text-anchor="end" fill="#1a1a1a">800000</text>
<line x1="65.8" y1="72.5" x2="69.5" y2="72.5" stroke="#1a1a1a" stroke-width="1.0" stroke-linecap="butt"/>
<text x="62" y="75.7" font-size="9.33" text-anchor="end" fill="#1a1a1a">1000000</text>
<line x1="68.8" y1="212.5" x2="219.4" y2="212.5" stroke="#1a1a1a" stroke-width="1.5" stroke-linecap="butt"/>
<line x1="142.2" y1="212.5" x2="142.2" y2="216.0" stroke="#1a1a1a" stroke-width="1.0" stroke-linecap="butt"/>
<line x1="215.6" y1="212.5" x2="215.6" y2="216.0" stroke="#1a1a1a" stroke-width="1.0" stroke-linecap="butt"/>
<line x1="118.8" y1="101.5" x2="191.8" y2="101.5" stroke="#1a1a1a" stroke-width="0.9" stroke-linecap="butt"/>
<text x="155.8" y="100.9" font-size="9.01" text-anchor="middle" fill="#1a1a1a">*</text>
<text x="176" y="90" font-size="9.12" text-anchor="start" fill="#1a1a1a" textLength="14.8" lengthAdjust="spacingAndGlyphs">n=3</text>
<text x="105" y="227.6" font-size="10.07" text-anchor="middle" fill="#1a1a1a" textLength="29" lengthAdjust="spacingAndGlyphs">Control</text>
<text x="178.9" y="227.6" font-size="10.07" text-anchor="middle" fill="#1a1a1a" textLength="53.6" lengthAdjust="spacingAndGlyphs">10 µg/ml GCV</text>
<text x="18.6" y="142.6" font-size="11.55" text-anchor="middle" fill="#1a1a1a" textLength="45.3" lengthAdjust="spacingAndGlyphs" transform="rotate(-90 18.6 142.6)">MN1 cells</text>
<line x1="319.3" y1="101.8" x2="319.3" y2="127.5" stroke="#1a1a1a" stroke-width="1.2" stroke-linecap="butt"/>
<line x1="319" y1="114.55" x2="505" y2="114.55" stroke="#1a1a1a" stroke-width="1.9" stroke-linecap="butt"/>
<path d="M515.5 114.6 L500.5 108.1 L503.8 114.6 L500.5 121.1 Z" fill="#111"/>
<rect x="411.5" y="105.7" width="46" height="18.3" fill="#727b9d" stroke="#586e96" stroke-width="1"/>
<text x="319.3" y="67.5" font-size="9.33" text-anchor="middle" fill="#1a1a1a" textLength="35" lengthAdjust="spacingAndGlyphs">MN1cells</text>
<text x="319.3" y="78.2" font-size="9.33" text-anchor="middle" fill="#1a1a1a" textLength="31" lengthAdjust="spacingAndGlyphs">injected</text>
<text x="432" y="74.3" font-size="9.33" text-anchor="middle" fill="#1a1a1a" textLength="16.5" lengthAdjust="spacingAndGlyphs">GCV</text>
<text x="432" y="85" font-size="9.33" text-anchor="middle" fill="#1a1a1a" textLength="38.7" lengthAdjust="spacingAndGlyphs">treatment</text>
<text x="319.3" y="139" font-size="9.01" text-anchor="middle" fill="#1a1a1a">0</text>
<text x="411.7" y="139.2" font-size="9.01" text-anchor="middle" fill="#1a1a1a" textLength="8.6" lengthAdjust="spacingAndGlyphs">15</text>
<text x="457.2" y="139.2" font-size="9.01" text-anchor="middle" fill="#1a1a1a" textLength="9.4" lengthAdjust="spacingAndGlyphs">20</text>
<text x="434.5" y="152.2" font-size="11.98" text-anchor="middle" fill="#1a1a1a" textLength="23" lengthAdjust="spacingAndGlyphs">Days</text>
<text x="288.8" y="167" font-size="9.33" text-anchor="middle" fill="#1a1a1a" textLength="35" lengthAdjust="spacingAndGlyphs">P16-3MR</text>
<text x="288.8" y="178.2" font-size="9.33" text-anchor="middle" fill="#1a1a1a" textLength="18" lengthAdjust="spacingAndGlyphs">Mice</text>
<path d="M287.34 91.34 L286.65 90.42 L285.88 89.57 L285.02 88.82 L284.08 88.14 L283.05 87.56 L281.93 87.06 L280.73 86.65 L279.43 86.34 L278.08 86.14 L276.60 86.08 L275.24 86.23 L273.93 86.55 L272.66 87.04 L271.42 87.68 L270.20 88.45 L269.00 89.34 L267.83 90.33 L266.69 91.37 L265.57 92.46 L264.47 93.56 L263.40 94.65 L262.68 95.35 L261.95 96.03 L261.20 96.70 L260.42 97.34 L259.62 97.93 L258.78 98.47 L257.90 98.95 L256.97 99.35" fill="none" stroke="#555" stroke-width="0.5" stroke-linecap="round" stroke-linejoin="round"/>
<path d="M288.66 91.98 L288.01 90.90 L287.27 89.90 L286.44 89.00 L285.52 88.19 L284.51 87.47 L283.41 86.84 L282.22 86.31 L280.95 85.88 L279.58 85.56 L278.16 85.34 L276.57 85.28 L275.10 85.44 L273.70 85.79 L272.34 86.31 L271.02 86.98 L269.74 87.79 L268.50 88.72 L267.30 89.72 L266.14 90.79 L265.01 91.89 L263.90 93.00 L262.83 94.08 L262.13 94.77 L261.41 95.44 L260.68 96.09 L259.93 96.70 L259.16 97.27 L258.37 97.79 L257.55 98.23 L256.69 98.60 L255.80 98.86" fill="none" stroke="#c4c4c4" stroke-width="1.5" stroke-linecap="round" stroke-linejoin="round"/>
<path d="M291.20 93.95 L290.69 92.54 L290.07 91.23 L289.34 90.01 L288.50 88.88 L287.56 87.86 L286.51 86.94 L285.37 86.12 L284.13 85.42 L282.80 84.82 L281.39 84.35 L279.88 83.99 L278.30 83.75 L276.52 83.68 L274.83 83.86 L273.22 84.26 L271.69 84.85 L270.23 85.59 L268.84 86.48 L267.51 87.46 L266.25 88.52 L265.04 89.63 L263.88 90.75 L262.77 91.87 L261.70 92.95 L261.02 93.62 L260.34 94.26 L259.64 94.87 L258.95 95.44 L258.25 95.96 L257.55 96.41 L256.85 96.79 L256.15 97.09 L255.46 97.30 L254.76 97.40 L254.08 97.39 L253.40 97.25 L253.11 97.14 L252.84 97.02 L252.59 96.88 L252.36 96.74 L252.15 96.58 L251.95 96.41 L251.77 96.24 L251.61 96.06 L251.46 95.89 L251.33 95.71 L251.21 95.53 L251.10 95.35" fill="none" stroke="#0d0d0d" stroke-width="2.1" stroke-linecap="round" stroke-linejoin="round"/>
<path d="M281.4 141.2 Q277.5 139 273.8 139.8" fill="none" stroke="#4a4a4a" stroke-width="0.55"/>
<path d="M281.2 142.4 Q277 142.4 273.4 144.4" fill="none" stroke="#4a4a4a" stroke-width="0.55"/>
<path d="M282.2 143.6 Q278.8 145 277 148.4" fill="none" stroke="#4a4a4a" stroke-width="0.55"/>
<path d="M296 141.2 Q299.9 139 303.6 139.8" fill="none" stroke="#4a4a4a" stroke-width="0.55"/>
<path d="M296.2 142.4 Q300.4 142.4 304 144.4" fill="none" stroke="#4a4a4a" stroke-width="0.55"/>
<path d="M295.2 143.6 Q298.6 145 300.4 148.4" fill="none" stroke="#4a4a4a" stroke-width="0.55"/>
<path d="M273 109 C273 98 280 90.7 288.7 90.7 C297.4 90.7 304.4 98 304.4 109 C304.4 116 303.6 121 302.4 126.4 L292.3 144.3 Q288.7 147.6 285.1 144.3 L275 126.4 C273.8 121 273 116 273 109 Z" fill="#0d0d0d"/>
<circle cx="275.4" cy="124" r="4.3" fill="#0d0d0d"/><circle cx="302" cy="124" r="4.3" fill="#0d0d0d"/>
<path d="M272.7 126 C272.2 121.8 275.2 119.7 278.4 120.2 C281.2 120.7 283 122.6 283.4 124.4 C280.4 122.4 275.8 122.4 272.7 126 Z" fill="#bcb7b5"/>
<path d="M304.7 126 C305.2 121.8 302.2 119.7 299 120.2 C296.2 120.7 294.4 122.6 294 124.4 C297 122.4 301.6 122.4 304.7 126 Z" fill="#bcb7b5"/>
<circle cx="283.9" cy="136" r="1.05" fill="#fff"/><circle cx="293.5" cy="136" r="1.05" fill="#fff"/>
<ellipse cx="288.7" cy="143.4" rx="1.5" ry="1.6" fill="#f2f2f2"/>
<line x1="298.8" y1="310.5" x2="298.8" y2="422.05" stroke="#1a1a1a" stroke-width="1.6" stroke-linecap="butt"/>
<line x1="298.0" y1="421.3" x2="461.3" y2="421.3" stroke="#1a1a1a" stroke-width="1.55" stroke-linecap="butt"/>
<line x1="295.3" y1="421.3" x2="298.8" y2="421.3" stroke="#1a1a1a" stroke-width="1.0" stroke-linecap="butt"/>
<text x="293.3" y="424.5" font-size="9.33" text-anchor="end" fill="#1a1a1a">0</text>
<line x1="295.3" y1="394.3" x2="298.8" y2="394.3" stroke="#1a1a1a" stroke-width="1.0" stroke-linecap="butt"/>
<text x="293.3" y="397.5" font-size="9.33" text-anchor="end" fill="#1a1a1a">20</text>
<line x1="295.3" y1="367.3" x2="298.8" y2="367.3" stroke="#1a1a1a" stroke-width="1.0" stroke-linecap="butt"/>
<text x="293.3" y="370.5" font-size="9.33" text-anchor="end" fill="#1a1a1a">40</text>
<line x1="295.3" y1="340.3" x2="298.8" y2="340.3" stroke="#1a1a1a" stroke-width="1.0" stroke-linecap="butt"/>
<text x="293.3" y="343.5" font-size="9.33" text-anchor="end" fill="#1a1a1a">60</text>
<line x1="295.3" y1="313.3" x2="298.8" y2="313.3" stroke="#1a1a1a" stroke-width="1.0" stroke-linecap="butt"/>
<text x="293.3" y="316.5" font-size="9.33" text-anchor="end" fill="#1a1a1a">80</text>
<line x1="319.5" y1="421.3" x2="319.5" y2="425.1" stroke="#1a1a1a" stroke-width="1.0" stroke-linecap="butt"/>
<line x1="360.0" y1="421.3" x2="360.0" y2="425.1" stroke="#1a1a1a" stroke-width="1.0" stroke-linecap="butt"/>
<line x1="400.3" y1="421.3" x2="400.3" y2="425.1" stroke="#1a1a1a" stroke-width="1.0" stroke-linecap="butt"/>
<line x1="440.5" y1="421.3" x2="440.5" y2="425.1" stroke="#1a1a1a" stroke-width="1.0" stroke-linecap="butt"/>
<line x1="319.5" y1="350.56" x2="360.0" y2="327.61" stroke="#111" stroke-width="1.15" stroke-linecap="butt"/>
<line x1="319.5" y1="361.76" x2="360.0" y2="319.51" stroke="#111" stroke-width="1.15" stroke-linecap="butt"/>
<line x1="319.5" y1="369.06" x2="360.0" y2="336.52" stroke="#111" stroke-width="1.15" stroke-linecap="butt"/>
<line x1="319.5" y1="375.26" x2="360.0" y2="340.03" stroke="#111" stroke-width="1.15" stroke-linecap="butt"/>
<line x1="319.5" y1="385.8" x2="360.0" y2="364.33" stroke="#111" stroke-width="1.15" stroke-linecap="butt"/>
<line x1="319.5" y1="388.36" x2="360.0" y2="343.0" stroke="#111" stroke-width="1.15" stroke-linecap="butt"/>
<line x1="319.5" y1="390.79" x2="360.0" y2="345.02" stroke="#111" stroke-width="1.15" stroke-linecap="butt"/>
<line x1="319.5" y1="394.57" x2="360.0" y2="345.02" stroke="#111" stroke-width="1.15" stroke-linecap="butt"/>
<line x1="400.3" y1="357.85" x2="440.5" y2="348.81" stroke="#111" stroke-width="1.15" stroke-linecap="butt"/>
<line x1="400.3" y1="364.33" x2="440.5" y2="340.03" stroke="#111" stroke-width="1.15" stroke-linecap="butt"/>
<line x1="400.3" y1="368.25" x2="440.5" y2="350.83" stroke="#111" stroke-width="1.15" stroke-linecap="butt"/>
<line x1="400.3" y1="372.84" x2="440.5" y2="367.3" stroke="#111" stroke-width="1.15" stroke-linecap="butt"/>
<line x1="400.3" y1="372.84" x2="440.5" y2="387.55" stroke="#111" stroke-width="1.15" stroke-linecap="butt"/>
<line x1="400.3" y1="398.08" x2="440.5" y2="422.51" stroke="#111" stroke-width="1.15" stroke-linecap="butt"/>
<line x1="400.3" y1="406.99" x2="440.5" y2="404.56" stroke="#111" stroke-width="1.15" stroke-linecap="butt"/>
<line x1="400.3" y1="406.99" x2="440.5" y2="406.31" stroke="#111" stroke-width="1.15" stroke-linecap="butt"/>
<circle cx="319.5" cy="350.56" r="2.7" fill="none" stroke="#a52c44" stroke-width="1.3"/>
<circle cx="360.0" cy="327.61" r="2.7" fill="none" stroke="#a52c44" stroke-width="1.3"/>
<circle cx="319.5" cy="361.76" r="2.7" fill="none" stroke="#a52c44" stroke-width="1.3"/>
<circle cx="360.0" cy="319.51" r="2.7" fill="none" stroke="#a52c44" stroke-width="1.3"/>
<circle cx="319.5" cy="369.06" r="2.7" fill="none" stroke="#a52c44" stroke-width="1.3"/>
<circle cx="360.0" cy="336.52" r="2.7" fill="none" stroke="#a52c44" stroke-width="1.3"/>
<circle cx="319.5" cy="375.26" r="2.7" fill="none" stroke="#a52c44" stroke-width="1.3"/>
<circle cx="360.0" cy="340.03" r="2.7" fill="none" stroke="#a52c44" stroke-width="1.3"/>
<circle cx="319.5" cy="385.8" r="2.7" fill="none" stroke="#a52c44" stroke-width="1.3"/>
<circle cx="360.0" cy="364.33" r="2.7" fill="none" stroke="#a52c44" stroke-width="1.3"/>
<circle cx="319.5" cy="388.36" r="2.7" fill="none" stroke="#a52c44" stroke-width="1.3"/>
<circle cx="360.0" cy="343.0" r="2.7" fill="none" stroke="#a52c44" stroke-width="1.3"/>
<circle cx="319.5" cy="390.79" r="2.7" fill="none" stroke="#a52c44" stroke-width="1.3"/>
<circle cx="360.0" cy="345.02" r="2.7" fill="none" stroke="#a52c44" stroke-width="1.3"/>
<circle cx="319.5" cy="394.57" r="2.7" fill="none" stroke="#a52c44" stroke-width="1.3"/>
<circle cx="360.0" cy="345.02" r="2.7" fill="none" stroke="#a52c44" stroke-width="1.3"/>
<circle cx="400.3" cy="357.85" r="2.7" fill="none" stroke="#a52c44" stroke-width="1.3"/>
<circle cx="440.5" cy="348.81" r="2.7" fill="none" stroke="#a52c44" stroke-width="1.3"/>
<circle cx="400.3" cy="364.33" r="2.7" fill="none" stroke="#a52c44" stroke-width="1.3"/>
<circle cx="440.5" cy="340.03" r="2.7" fill="none" stroke="#a52c44" stroke-width="1.3"/>
<circle cx="400.3" cy="368.25" r="2.7" fill="none" stroke="#a52c44" stroke-width="1.3"/>
<circle cx="440.5" cy="350.83" r="2.7" fill="none" stroke="#a52c44" stroke-width="1.3"/>
<circle cx="400.3" cy="372.84" r="2.7" fill="none" stroke="#a52c44" stroke-width="1.3"/>
<circle cx="440.5" cy="367.3" r="2.7" fill="none" stroke="#a52c44" stroke-width="1.3"/>
<circle cx="400.3" cy="372.84" r="2.7" fill="none" stroke="#a52c44" stroke-width="1.3"/>
<circle cx="440.5" cy="387.55" r="2.7" fill="none" stroke="#a52c44" stroke-width="1.3"/>
<circle cx="400.3" cy="398.08" r="2.7" fill="none" stroke="#a52c44" stroke-width="1.3"/>
<circle cx="440.5" cy="422.51" r="2.7" fill="none" stroke="#a52c44" stroke-width="1.3"/>
<circle cx="400.3" cy="406.99" r="2.7" fill="none" stroke="#a52c44" stroke-width="1.3"/>
<circle cx="440.5" cy="404.56" r="2.7" fill="none" stroke="#a52c44" stroke-width="1.3"/>
<circle cx="400.3" cy="406.99" r="2.7" fill="none" stroke="#a52c44" stroke-width="1.3"/>
<circle cx="440.5" cy="406.31" r="2.7" fill="none" stroke="#a52c44" stroke-width="1.3"/>
<line x1="352.5" y1="309.8" x2="435.8" y2="309.8" stroke="#4d4d4d" stroke-width="1.25" stroke-linecap="butt"/>
<text x="394.3" y="309.6" font-size="9.01" text-anchor="middle" fill="#1a1a1a">*</text>
<text x="319.9" y="436.7" font-size="9.86" text-anchor="middle" fill="#1a1a1a" textLength="12.8" lengthAdjust="spacingAndGlyphs">pre</text>
<text x="360.2" y="436.7" font-size="9.86" text-anchor="middle" fill="#1a1a1a" textLength="17.3" lengthAdjust="spacingAndGlyphs">post</text>
<text x="400.2" y="436.7" font-size="9.86" text-anchor="middle" fill="#1a1a1a" textLength="12.8" lengthAdjust="spacingAndGlyphs">pre</text>
<text x="440.5" y="436.7" font-size="9.86" text-anchor="middle" fill="#1a1a1a" textLength="17.3" lengthAdjust="spacingAndGlyphs">post</text>
<line x1="311.5" y1="442.6" x2="367.3" y2="442.6" stroke="#444" stroke-width="1.25" stroke-linecap="butt"/>
<line x1="388" y1="442.6" x2="444" y2="442.6" stroke="#444" stroke-width="1.25" stroke-linecap="butt"/>
<text x="339.8" y="454" font-size="9.33" text-anchor="middle" fill="#1a1a1a" textLength="28.4" lengthAdjust="spacingAndGlyphs">Vehicle</text>
<text x="416" y="454" font-size="9.33" text-anchor="middle" fill="#1a1a1a" textLength="16.6" lengthAdjust="spacingAndGlyphs">GCV</text>
<text x="262" y="366" font-size="11.87" text-anchor="middle" fill="#1a1a1a" textLength="78" lengthAdjust="spacingAndGlyphs" transform="rotate(-90 262 366)">Bioluminescence</text>
<text x="274.5" y="366.2" font-size="11.87" text-anchor="middle" fill="#1a1a1a" textLength="62.5" lengthAdjust="spacingAndGlyphs" transform="rotate(-90 274.5 366.2)">densitometry</text>
<path d="M45.1 565.3 H156.4 V602.69 H168.33 V615.15 H184.22 V627.61 H188.2 V652.54 H192.18 V665.0" fill="none" stroke="#a6304a" stroke-width="1.55" stroke-linejoin="miter"/>
<path d="M45.1 565.3 H143.92 V602.69 H147.89 V615.15 H151.87 V652.54 H156.4 V665.0" fill="none" stroke="#fff" stroke-width="2.0" stroke-linejoin="miter"/>
<path d="M45.1 565.3 H143.92 V602.69 H147.89 V615.15 H151.87 V652.54 H156.4 V665.0" fill="none" stroke="#3f608c" stroke-width="1.55" stroke-linejoin="miter"/>
<line x1="45.1" y1="537.5" x2="45.1" y2="665.75" stroke="#1a1a1a" stroke-width="1.55" stroke-linecap="butt"/>
<line x1="44.4" y1="665.0" x2="208" y2="665.0" stroke="#1a1a1a" stroke-width="1.5" stroke-linecap="butt"/>
<line x1="41.7" y1="665.0" x2="45.1" y2="665.0" stroke="#1a1a1a" stroke-width="1.0" stroke-linecap="butt"/>
<text x="39.2" y="668.1" font-size="9.12" text-anchor="end" fill="#1a1a1a">0</text>
<line x1="41.7" y1="615.15" x2="45.1" y2="615.15" stroke="#1a1a1a" stroke-width="1.0" stroke-linecap="butt"/>
<text x="39.2" y="618.25" font-size="9.12" text-anchor="end" fill="#1a1a1a">50</text>
<line x1="41.7" y1="565.3" x2="45.1" y2="565.3" stroke="#1a1a1a" stroke-width="1.0" stroke-linecap="butt"/>
<text x="39.2" y="568.4" font-size="9.12" text-anchor="end" fill="#1a1a1a">100</text>
<line x1="45.1" y1="665.0" x2="45.1" y2="668.6" stroke="#1a1a1a" stroke-width="1.0" stroke-linecap="butt"/>
<text x="45.1" y="680.4" font-size="9.12" text-anchor="middle" fill="#1a1a1a">0</text>
<line x1="84.85" y1="665.0" x2="84.85" y2="668.6" stroke="#1a1a1a" stroke-width="1.0" stroke-linecap="butt"/>
<text x="84.85" y="680.4" font-size="9.12" text-anchor="middle" fill="#1a1a1a">10</text>
<line x1="124.6" y1="665.0" x2="124.6" y2="668.6" stroke="#1a1a1a" stroke-width="1.0" stroke-linecap="butt"/>
<text x="124.6" y="680.4" font-size="9.12" text-anchor="middle" fill="#1a1a1a">20</text>
<line x1="164.35" y1="665.0" x2="164.35" y2="668.6" stroke="#1a1a1a" stroke-width="1.0" stroke-linecap="butt"/>
<text x="164.35" y="680.4" font-size="9.12" text-anchor="middle" fill="#1a1a1a">30</text>
<line x1="204.1" y1="665.0" x2="204.1" y2="668.6" stroke="#1a1a1a" stroke-width="1.0" stroke-linecap="butt"/>
<text x="204.1" y="680.4" font-size="9.12" text-anchor="middle" fill="#1a1a1a">40</text>
<text x="126.8" y="695.8" font-size="11.98" text-anchor="middle" fill="#1a1a1a" textLength="23" lengthAdjust="spacingAndGlyphs">Days</text>
<text x="93.3" y="530.9" font-size="11.24" text-anchor="start" fill="#1a1a1a" textLength="66.4" lengthAdjust="spacingAndGlyphs">P16-3MR Mice</text>
<text x="109.6" y="560.0" font-size="8.69" text-anchor="start" fill="#1a1a1a" textLength="33.4" lengthAdjust="spacingAndGlyphs">P=0.0003</text>
<text x="52.1" y="644" font-size="8.9" text-anchor="start" fill="#1a1a1a" textLength="14.5" lengthAdjust="spacingAndGlyphs">Con</text>
<text x="52.1" y="657.5" font-size="8.9" text-anchor="start" fill="#1a1a1a" textLength="15.8" lengthAdjust="spacingAndGlyphs">GCV</text>
<line x1="73.2" y1="641.2" x2="93.1" y2="641.2" stroke="#3f608c" stroke-width="1.4" stroke-linecap="butt"/>
<line x1="73.2" y1="654.7" x2="93.1" y2="654.7" stroke="#a6304a" stroke-width="1.4" stroke-linecap="butt"/>
<text x="18.4" y="601.5" font-size="11.13" text-anchor="middle" fill="#1a1a1a" textLength="81" lengthAdjust="spacingAndGlyphs" transform="rotate(-90 18.4 601.5)">% animal survival</text>
<path d="M298.6 568.3 H384.07 V595.96 H387.96 V637.34 H391.84 V665.0" fill="none" stroke="#a6304a" stroke-width="1.55" stroke-linejoin="miter"/>
<path d="M298.6 568.3 H380.19 V582.13 H384.07 V609.78 H387.96 V651.17 H391.84 V665.0" fill="none" stroke="#fff" stroke-width="2.0" stroke-linejoin="miter"/>
<path d="M298.6 568.3 H380.19 V582.13 H384.07 V609.78 H387.96 V651.17 H391.84 V665.0" fill="none" stroke="#3f608c" stroke-width="1.55" stroke-linejoin="miter"/>
<line x1="298.6" y1="540.4" x2="298.6" y2="665.75" stroke="#1a1a1a" stroke-width="1.55" stroke-linecap="butt"/>
<line x1="297.90000000000003" y1="665.0" x2="457" y2="665.0" stroke="#1a1a1a" stroke-width="1.5" stroke-linecap="butt"/>
<line x1="295.20000000000005" y1="665.0" x2="298.6" y2="665.0" stroke="#1a1a1a" stroke-width="1.0" stroke-linecap="butt"/>
<text x="292" y="668.1" font-size="9.12" text-anchor="end" fill="#1a1a1a">0</text>
<line x1="295.20000000000005" y1="616.65" x2="298.6" y2="616.65" stroke="#1a1a1a" stroke-width="1.0" stroke-linecap="butt"/>
<text x="292" y="619.75" font-size="9.12" text-anchor="end" fill="#1a1a1a">50</text>
<line x1="295.20000000000005" y1="568.3" x2="298.6" y2="568.3" stroke="#1a1a1a" stroke-width="1.0" stroke-linecap="butt"/>
<text x="292" y="571.4" font-size="9.12" text-anchor="end" fill="#1a1a1a">100</text>
<line x1="298.6" y1="665.0" x2="298.6" y2="668.6" stroke="#1a1a1a" stroke-width="1.0" stroke-linecap="butt"/>
<text x="298.6" y="680.4" font-size="9.12" text-anchor="middle" fill="#1a1a1a">0</text>
<line x1="337.45" y1="665.0" x2="337.45" y2="668.6" stroke="#1a1a1a" stroke-width="1.0" stroke-linecap="butt"/>
<text x="337.45" y="680.4" font-size="9.12" text-anchor="middle" fill="#1a1a1a">10</text>
<line x1="376.3" y1="665.0" x2="376.3" y2="668.6" stroke="#1a1a1a" stroke-width="1.0" stroke-linecap="butt"/>
<text x="376.3" y="680.4" font-size="9.12" text-anchor="middle" fill="#1a1a1a">20</text>
<line x1="415.15" y1="665.0" x2="415.15" y2="668.6" stroke="#1a1a1a" stroke-width="1.0" stroke-linecap="butt"/>
<text x="415.15" y="680.4" font-size="9.12" text-anchor="middle" fill="#1a1a1a">30</text>
<line x1="454.0" y1="665.0" x2="454.0" y2="668.6" stroke="#1a1a1a" stroke-width="1.0" stroke-linecap="butt"/>
<text x="454.0" y="680.4" font-size="9.12" text-anchor="middle" fill="#1a1a1a">40</text>
<text x="378.3" y="695.8" font-size="11.98" text-anchor="middle" fill="#1a1a1a" textLength="23" lengthAdjust="spacingAndGlyphs">Days</text>
<text x="348.9" y="533.7" font-size="11.24" text-anchor="start" fill="#1a1a1a" textLength="58.5" lengthAdjust="spacingAndGlyphs">C57B/6 Mice</text>
<text x="363.1" y="560.3" font-size="8.69" text-anchor="start" fill="#1a1a1a" textLength="29.8" lengthAdjust="spacingAndGlyphs">P=0.428</text>
<text x="307.1" y="646.8" font-size="8.9" text-anchor="start" fill="#1a1a1a" textLength="14.5" lengthAdjust="spacingAndGlyphs">Con</text>
<text x="307.1" y="660.8" font-size="8.9" text-anchor="start" fill="#1a1a1a" textLength="15.8" lengthAdjust="spacingAndGlyphs">GCV</text>
<line x1="327" y1="644.0" x2="346.9" y2="644.0" stroke="#3f608c" stroke-width="1.4" stroke-linecap="butt"/>
<line x1="327" y1="658.0" x2="346.9" y2="658.0" stroke="#a6304a" stroke-width="1.4" stroke-linecap="butt"/>
<text x="271.2" y="602.7" font-size="11.13" text-anchor="middle" fill="#1a1a1a" textLength="81" lengthAdjust="spacingAndGlyphs" transform="rotate(-90 271.2 602.7)">% animal survival</text>
<text x="10" y="19.8" font-size="13.14" text-anchor="start" fill="#1a1a1a" textLength="8.5" lengthAdjust="spacingAndGlyphs">A</text>
<text x="253.6" y="19.8" font-size="13.14" text-anchor="start" fill="#1a1a1a" textLength="6.9" lengthAdjust="spacingAndGlyphs">B</text>
<text x="9.8" y="259" font-size="13.14" text-anchor="start" fill="#1a1a1a" textLength="7.5" lengthAdjust="spacingAndGlyphs">C</text>
<text x="253.6" y="259" font-size="13.14" text-anchor="start" fill="#1a1a1a" textLength="8.5" lengthAdjust="spacingAndGlyphs">D</text>
<text x="10.2" y="514" font-size="13.14" text-anchor="start" fill="#1a1a1a" textLength="5.8" lengthAdjust="spacingAndGlyphs">E</text>
<text x="253.5" y="517" font-size="13.14" text-anchor="start" fill="#1a1a1a" textLength="5.9" lengthAdjust="spacingAndGlyphs">F</text>
<rect x="0" y="0" width="520" height="1.45" fill="#5a5a5a"/>
<rect x="518.05" y="0" width="1.95" height="707" fill="#5a5a5a"/>
<rect x="0" y="704.8" width="520" height="2.2" fill="#5a5a5a"/>
<rect x="0" y="0" width="1.1" height="707" fill="#0a0a0a"/>
</svg>
</body>
</html>
